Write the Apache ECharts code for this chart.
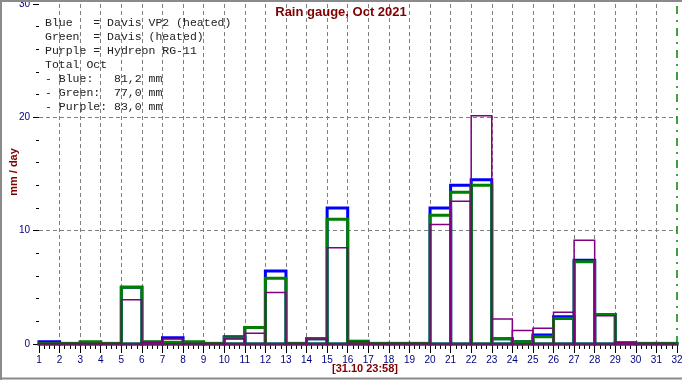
<!DOCTYPE html>
<html>
<head>
<meta charset="utf-8">
<script src="https://cdn.jsdelivr.net/npm/echarts@6/dist/echarts.min.js"></script>
<style>
html,body{margin:0;padding:0;background:#fff;}
#c{width:682px;height:380px;}
</style>
</head>
<body>
<div id="c"></div>
<script>
// Days of October 2021 (each bar spans day .. day+1)
const days = [1,2,3,4,5,6,7,8,9,10,11,12,13,14,15,16,17,18,19,20,21,22,23,24,25,26,27,28,29,30,31];
// Daily rain, mm
const blueVP2 = [0.2,0.05,0.1,0.05,5.0,0.15,0.55,0.1,0.05,0.65,1.45,6.45,0.05,0.47,12.0,0.15,0.05,0.05,0.05,12.0,14.0,14.5,0.47,0.2,0.8,2.4,7.4,2.6,0.1,0.05,0.05];
const greenDavis = [0.05,0.05,0.2,0.05,5.0,0.2,0.15,0.2,0.05,0.55,1.45,5.8,0.05,0.47,11.0,0.25,0.05,0.05,0.05,11.35,13.4,14.0,0.47,0.2,0.65,2.25,7.25,2.6,0.05,0.05,0.05];
const purpleRG11 = [0.05,0.05,0.05,0.05,3.9,0.15,0.45,0.05,0.05,0.45,0.95,4.55,0.05,0.45,8.5,0.2,0.05,0.05,0.05,10.55,12.6,20.15,2.2,1.2,1.4,2.8,9.15,2.5,0.15,0.05,0.05];
const yTicks = [0,10,20,30];
const xMin = 1, xMax = 32, nowDay = 32;
const titleText = 'Rain gauge, Oct 2021';
const yName = 'mm / day';
const stampText = '[31.10 23:58]';
const legendLines = [
  'Blue   = Davis VP2 (heated)',
  'Green  = Davis (heated)',
  'Purple = Hydreon RG-11',
  'Total Oct',
  '- Blue:   81,2 mm',
  '- Green:  77,0 mm',
  '- Purple: 83,0 mm'
];

function makeRender(color, width){
  return function(params, api){
    const d = api.value(0), v = api.value(1);
    const p0 = api.coord([d, 0]);
    const p1 = api.coord([d + 1, v]);
    return {
      type: 'rect',
      shape: {x: p0[0], y: p1[1], width: p1[0] - p0[0], height: p0[1] - p1[1]},
      style: {fill: 'transparent', stroke: color, lineWidth: width}
    };
  };
}
function pairs(arr){ return days.map((d, i) => [d, arr[i]]); }

const chart = echarts.init(document.getElementById('c'), null, {renderer: 'canvas'});
chart.setOption({
  animation: false,
  backgroundColor: '#fff',
  title: {
    text: titleText, left: 'center', top: 6, padding: 0,
    textStyle: {color: '#800000', fontWeight: 'bold', fontSize: 13, fontFamily: 'Liberation Sans'}
  },
  grid: {left: 39, right: 5, top: 4, bottom: 36, containLabel: false, outerBoundsMode: 'none'},
  xAxis: {
    type: 'value', min: xMin, max: xMax, interval: 1,
    axisLine: {show: true, onZero: false, lineStyle: {color: '#000', width: 1}},
    axisTick: {show: true, length: 9, lineStyle: {color: '#000'}},
    minorTick: {show: true, splitNumber: 4, length: 5, lineStyle: {color: '#000'}},
    axisLabel: {color: '#000080', fontSize: 10, fontFamily: 'Liberation Sans', margin: 11, showMinLabel: true, showMaxLabel: true},
    splitLine: {show: true, showMinLine: false, showMaxLine: false, lineStyle: {color: '#808080', type: [4, 3], width: 1}}
  },
  yAxis: {
    type: 'value', min: yTicks[0], max: yTicks[yTicks.length - 1], interval: 10,
    axisLine: {show: false},
    axisTick: {show: true, length: 6, lineStyle: {color: '#000'}},
    minorTick: {show: true, splitNumber: 5, length: 3, lineStyle: {color: '#000'}},
    axisLabel: {color: '#000080', fontSize: 10, fontFamily: 'Liberation Sans', margin: 9},
    splitLine: {show: true, showMinLine: false, showMaxLine: false, lineStyle: {color: '#808080', type: [4, 3], width: 1}}
  },
  series: [
    {type: 'custom', name: 'Blue', renderItem: makeRender('#0000ff', 3), data: pairs(blueVP2), encode: {x: 0, y: 1}, z: 2},
    {type: 'custom', name: 'Green', renderItem: makeRender('#008000', 3), data: pairs(greenDavis), encode: {x: 0, y: 1}, z: 3},
    {type: 'custom', name: 'Purple', renderItem: makeRender('#800080', 1.5), data: pairs(purpleRG11), encode: {x: 0, y: 1}, z: 4},
    {type: 'line', name: 'now', data: [[nowDay, yTicks[0]], [nowDay, yTicks[yTicks.length - 1]]],
     symbol: 'none', lineStyle: {color: '#008000', width: 1.5, type: [8, 6, 2, 6]}, z: 5}
  ],
  graphic: [
    {type: 'text', x: 45, y: 16, z: 10,
     style: {text: legendLines.join('\n'), font: '11.5px "Liberation Mono"', fill: '#222', lineHeight: 14}},
    {type: 'text', x: 14, y: 172, rotation: Math.PI / 2, z: 10,
     style: {text: yName, font: 'bold 11px "Liberation Sans"', fill: '#800000', align: 'center', verticalAlign: 'middle'}},
    {type: 'text', x: 365, y: 369, z: 10,
     style: {text: stampText, font: 'bold 11px "Liberation Sans"', fill: '#800000', align: 'center', verticalAlign: 'middle'}},
    {type: 'line', shape: {x1: 0, y1: 1, x2: 682, y2: 1}, style: {stroke: '#8a8a8a', lineWidth: 2}, z: 20},
    {type: 'line', shape: {x1: 1, y1: 0, x2: 1, y2: 380}, style: {stroke: '#8a8a8a', lineWidth: 2}, z: 20},
    {type: 'line', shape: {x1: 0, y1: 378.5, x2: 682, y2: 378.5}, style: {stroke: '#8a8a8a', lineWidth: 2}, z: 20}
  ]
});
</script>
</body>
</html>
